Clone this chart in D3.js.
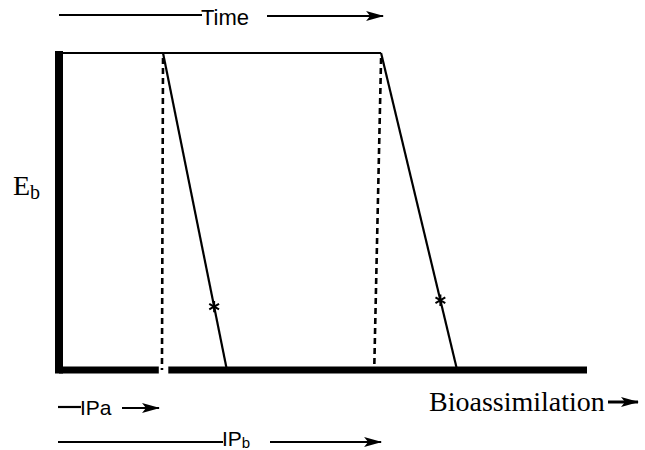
<!DOCTYPE html>
<html>
  <head>
    <meta charset="utf-8">
    <title>Eb vs bioassimilation</title>
    <style>
      body { margin: 0; background: #fff; }
      .sans { font-family: "Liberation Sans", Arial, sans-serif; }
      .serif { font-family: "Liberation Serif", "Times New Roman", serif; }
    </style>
  </head>
  <body>
    <div class="container"></div>
    <script src="https://cdn.jsdelivr.net/npm/d3@7/dist/d3.min.js"></script>
    <script>
    // data: two profiles, a and b (bioassimilation units 0-100, Eb 0-1)
    var profiles = ["a", "b"];
    var dropStart = [19.7, 61.0];   // where Eb begins to fall
    var dropEnd = [31.8, 75.4];     // where Eb reaches zero
    var dashBase = [19.5, 59.7];    // foot of the dashed line
    var starLevel = [0.2, 0.22];    // asterisk on the falling line
    var axisGap = [18.9, 20.7];     // break in the bottom axis
    var xMax = 100;

    var width = 645, height = 450;
    var svg = d3.select(".container").append("svg")
        .attr("width", width).attr("height", height);

    var x = d3.scaleLinear().domain([0, xMax]).range([59, 587]);
    var y = d3.scaleLinear().domain([0, 1]).range([370, 53]);

    // arrowhead marker
    svg.append("defs").append("marker")
        .attr("id", "head")
        .attr("viewBox", "0 0 18 11")
        .attr("refX", 17).attr("refY", 5.5)
        .attr("markerWidth", 18).attr("markerHeight", 11)
        .attr("markerUnits", "userSpaceOnUse")
        .attr("orient", "auto")
        .append("path")
        .attr("d", "M0,0.5 L18,5.5 L0,10.5 L4,5.5 Z")
        .attr("fill", "#000");

    // left axis
    svg.append("line")
        .attr("x1", x(0)).attr("x2", x(0))
        .attr("y1", y(1) - 2).attr("y2", y(0) + 3.5)
        .attr("stroke", "#000").attr("stroke-width", 8);

    // bottom axis, broken near profile a
    var pieces = [[0, axisGap[0]], [axisGap[1], xMax]];
    svg.selectAll(".base").data(pieces).enter().append("line")
        .attr("class", "base")
        .attr("x1", function(d) { return x(d[0]); })
        .attr("x2", function(d) { return x(d[1]); })
        .attr("y1", y(0)).attr("y2", y(0))
        .attr("stroke", "#000").attr("stroke-width", 7);

    // top plateau
    svg.append("line")
        .attr("x1", x(0)).attr("x2", x(dropStart[1]))
        .attr("y1", y(1)).attr("y2", y(1))
        .attr("stroke", "#000").attr("stroke-width", 2.2);

    // dashed lines
    svg.selectAll(".dash").data(profiles).enter().append("line")
        .attr("class", "dash")
        .attr("x1", function(d, i) { return x(dropStart[i]); })
        .attr("x2", function(d, i) { return x(dashBase[i]); })
        .attr("y1", y(1) + 5).attr("y2", y(0))
        .attr("stroke", "#000").attr("stroke-width", 2.6)
        .attr("stroke-dasharray", "6,4");

    // falling lines
    svg.selectAll(".fall").data(profiles).enter().append("line")
        .attr("class", "fall")
        .attr("x1", function(d, i) { return x(dropStart[i]); })
        .attr("x2", function(d, i) { return x(dropEnd[i]); })
        .attr("y1", y(1)).attr("y2", y(0))
        .attr("stroke", "#000").attr("stroke-width", 2.2);

    // asterisks
    var star = d3.symbol().type(d3.symbolAsterisk).size(90);
    svg.selectAll(".star").data(profiles).enter().append("path")
        .attr("class", "star")
        .attr("d", star)
        .attr("transform", function(d, i) {
          var xs = dropEnd[i] - (dropEnd[i] - dropStart[i]) * starLevel[i];
          return "translate(" + x(xs) + "," + y(starLevel[i]) + ")";
        })
        .attr("fill", "none").attr("stroke", "#000").attr("stroke-width", 2);

    // Time arrow at top
    svg.append("line").attr("x1", 59).attr("x2", 202).attr("y1", 15).attr("y2", 15)
        .attr("stroke", "#000").attr("stroke-width", 2);
    svg.append("text").attr("class", "sans").attr("x", 201).attr("y", 25)
        .attr("font-size", 22).text("Time");
    svg.append("line").attr("x1", 267).attr("x2", x(dropStart[1]) + 2).attr("y1", 16).attr("y2", 16)
        .attr("stroke", "#000").attr("stroke-width", 2.2).attr("marker-end", "url(#head)");

    // IPa
    svg.append("line").attr("x1", 58).attr("x2", 81).attr("y1", 407).attr("y2", 407)
        .attr("stroke", "#000").attr("stroke-width", 2.2);
    svg.append("text").attr("class", "sans").attr("x", 80).attr("y", 415)
        .attr("font-size", 21).text("IPa");
    svg.append("line").attr("x1", 122).attr("x2", x(dropStart[0]) - 4).attr("y1", 408).attr("y2", 408)
        .attr("stroke", "#000").attr("stroke-width", 2.2).attr("marker-end", "url(#head)");

    // IPb
    svg.append("line").attr("x1", 58).attr("x2", 223).attr("y1", 442).attr("y2", 442)
        .attr("stroke", "#000").attr("stroke-width", 2.2);
    var ipb = svg.append("text").attr("class", "sans").attr("x", 222).attr("y", 446)
        .attr("font-size", 21);
    ipb.append("tspan").text("IP");
    ipb.append("tspan").attr("font-size", 15).attr("dy", 2).text("b");
    svg.append("line").attr("x1", 270).attr("x2", x(dropStart[1])).attr("y1", 442).attr("y2", 442)
        .attr("stroke", "#000").attr("stroke-width", 2.2).attr("marker-end", "url(#head)");

    // Eb label
    var eb = svg.append("text").attr("class", "serif").attr("x", 13).attr("y", 195)
        .attr("font-size", 28);
    eb.append("tspan").text("E");
    eb.append("tspan").attr("font-size", 20).attr("dy", 4).text("b");

    // Bioassimilation label
    svg.append("text").attr("class", "serif").attr("x", 429).attr("y", 411)
        .attr("font-size", 28).text("Bioassimilation");
    svg.append("line").attr("x1", 608).attr("x2", 638).attr("y1", 402).attr("y2", 402)
        .attr("stroke", "#000").attr("stroke-width", 3).attr("marker-end", "url(#head)");
    </script>
  </body>
</html>
